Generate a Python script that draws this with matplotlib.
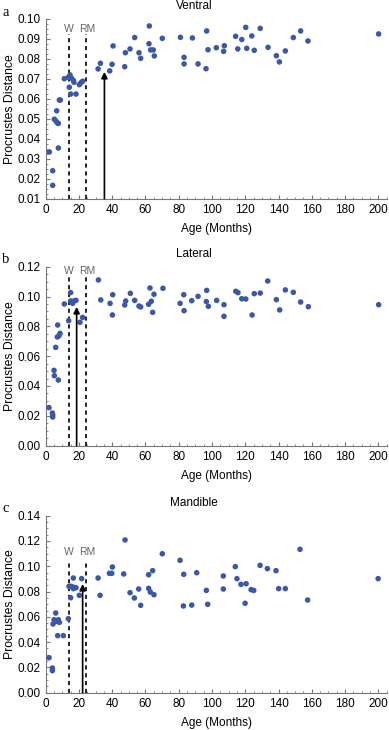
import matplotlib
matplotlib.use('Agg')
from matplotlib import pyplot as plt
from matplotlib.ticker import MultipleLocator

plt.rcParams['font.family'] = ['Liberation Sans', 'DejaVu Sans']

# Ventral
ventral_age = [2.2, 4.2, 4.2, 5.2, 6.0, 6.6, 7.0, 7.6, 7.6, 8.2, 8.8, 11.2, 13.6, 14.6, 14.2,
               15.0, 15.4, 16.6, 17.0, 18.2, 20.2, 21.2, 22.2, 31.5, 32.9, 38.5, 39.9, 40.5,
               47.5, 47.9, 50.7, 53.5, 56.1, 57.1, 62.1, 62.3, 63.1, 64.7, 65.3, 70.1, 81.0,
               83.2, 83.2, 88.2, 91.6, 96.8, 96.4, 97.6, 102.6, 107.4, 107.0, 114.2, 115.5,
               117.9, 120.3, 120.9, 123.9, 125.4, 129.0, 133.7, 138.7, 140.5, 144.1, 148.9,
               153.3, 157.7, 200.2]
ventral_dist = [0.0334, 0.0240, 0.0167, 0.0498, 0.0490, 0.0540, 0.0480, 0.0477, 0.0354, 0.0594,
                0.0594, 0.0701, 0.0708, 0.0720, 0.0658, 0.0624, 0.0705, 0.0693, 0.0683, 0.0624,
                0.0671, 0.0681, 0.0688, 0.0750, 0.0778, 0.0740, 0.0773, 0.0865, 0.0761, 0.0831,
                0.0850, 0.0907, 0.0831, 0.0803, 0.0876, 0.0965, 0.0845, 0.0845, 0.0815, 0.0903,
                0.0908, 0.0808, 0.0775, 0.0905, 0.0775, 0.0940, 0.0751, 0.0846, 0.0856, 0.0866,
                0.0838, 0.0913, 0.0850, 0.0897, 0.0958, 0.0853, 0.0915, 0.0843, 0.0953, 0.0858,
                0.0816, 0.0785, 0.0840, 0.0907, 0.0940, 0.0890, 0.0925]

# Lateral
lateral_age = [2.0, 4.0, 4.2, 4.2, 5.0, 5.2, 6.0, 7.2, 7.0, 8.0, 8.6, 7.6, 11.2, 13.8, 15.0,
               15.0, 16.2, 17.0, 18.2, 20.6, 22.2, 31.7, 33.1, 38.7, 40.3, 40.1, 47.5, 48.1,
               50.9, 53.5, 56.1, 57.1, 61.9, 62.7, 63.5, 64.3, 65.1, 70.5, 80.8, 83.0, 83.2,
               87.8, 91.6, 96.8, 96.6, 97.8, 102.8, 107.2, 107.2, 114.3, 115.6, 117.9, 120.3,
               124.1, 125.4, 129.0, 133.5, 138.7, 140.7, 144.1, 148.9, 153.3, 157.9, 200.2]
lateral_dist = [0.0255, 0.0219, 0.0205, 0.0192, 0.0505, 0.0469, 0.0659, 0.0809, 0.0729, 0.0737,
                0.0753, 0.0440, 0.0950, 0.0838, 0.1026, 0.0970, 0.0954, 0.0970, 0.0974, 0.0827,
                0.0860, 0.1111, 0.0977, 0.0954, 0.1012, 0.0876, 0.0943, 0.0970, 0.1021, 0.0974,
                0.0936, 0.0930, 0.0948, 0.1057, 0.0968, 0.0894, 0.1015, 0.1055, 0.0954, 0.1012,
                0.0905, 0.0972, 0.1001, 0.1041, 0.0966, 0.0934, 0.0974, 0.0945, 0.0867, 0.1035,
                0.1026, 0.0985, 0.0983, 0.0876, 0.1019, 0.1023, 0.1104, 0.0979, 0.0910, 0.1044,
                0.1028, 0.0963, 0.0932, 0.0945]

# Mandible
mandible_age = [2.0, 4.0, 4.0, 4.4, 5.0, 6.0, 6.2, 7.2, 7.6, 8.2, 10.6, 13.6, 14.0, 15.0, 15.4,
                16.6, 16.6, 17.2, 18.2, 20.2, 21.6, 31.5, 32.7, 38.3, 39.7, 40.1, 46.9, 47.7,
                50.7, 53.3, 55.9, 57.1, 61.9, 61.9, 62.9, 64.3, 65.1, 70.1, 80.8, 83.0, 82.8,
                87.8, 90.8, 96.6, 97.4, 106.8, 106.8, 114.0, 115.0, 117.4, 119.9, 120.5, 123.5,
                125.1, 128.9, 133.3, 138.5, 140.1, 144.1, 152.9, 157.5, 199.9]
mandible_dist = [0.0277, 0.0195, 0.0174, 0.0543, 0.0577, 0.0630, 0.0564, 0.0451, 0.0577, 0.0556,
                 0.0451, 0.0585, 0.0841, 0.0751, 0.0841, 0.0907, 0.0823, 0.0833, 0.0830, 0.0770,
                 0.0902, 0.0907, 0.0770, 0.0944, 0.0944, 0.0994, 0.0939, 0.1208, 0.0791, 0.0749,
                 0.0820, 0.0691, 0.0933, 0.0825, 0.0796, 0.0965, 0.0775, 0.1099, 0.1047, 0.0936,
                 0.0686, 0.0693, 0.0949, 0.0809, 0.0699, 0.0923, 0.0820, 0.0997, 0.0902, 0.0857,
                 0.0707, 0.0862, 0.0815, 0.0809, 0.1007, 0.0981, 0.0965, 0.0823, 0.0823, 0.1134,
                 0.0733, 0.0902]

titles = ['Ventral', 'Lateral', 'Mandible']
letters = ['a', 'b', 'c']
weaning, rm = 14, 24
arrow_x = [35.3, 18.6, 22.2]
arrow_top = [0.0735, 0.093, 0.086]
ylims = [(0.01, 0.10), (0.0, 0.12), (0.0, 0.14)]
ystep = [0.01, 0.02, 0.02]
dash_top = [0.0925, 0.113, 0.105]
label_y = [0.0950, 0.1170, 0.1115]
ypos = [(0.7278, 0.2462), (0.3895, 0.2452), (0.0511, 0.2425)]

fig = plt.figure(figsize=(3.89, 7.30), dpi=100)
data = [(ventral_age, ventral_dist), (lateral_age, lateral_dist), (mandible_age, mandible_dist)]

for i in range(3):
    ax = fig.add_axes([0.1175, ypos[i][0], 0.8764, ypos[i][1]])
    ax.scatter(data[i][0], data[i][1], s=16, color='#3b57a8', edgecolors='none', zorder=3)
    lo, hi = ylims[i]
    ax.set_xlim(0, 205)
    ax.set_ylim(lo, hi)
    for xv in (weaning, rm):
        ax.plot([xv, xv], [lo, dash_top[i]], color='black', lw=1.2, ls=(0, (2.5, 2.2)))
    ax.text(weaning, label_y[i], 'W', ha='center', va='center', fontsize=7.5, color='#666666')
    ax.text(rm + 0.8, label_y[i], 'RM', ha='center', va='center', fontsize=7.5, color='#666666')
    ax.annotate('', xy=(arrow_x[i], arrow_top[i]), xytext=(arrow_x[i], lo),
                arrowprops=dict(arrowstyle='-|>', color='black', lw=1.2,
                                mutation_scale=9, shrinkA=0, shrinkB=0))
    ax.spines['top'].set_visible(False)
    ax.spines['right'].set_visible(False)
    ax.spines['left'].set_color('#777777')
    ax.spines['bottom'].set_color('#777777')
    ax.xaxis.set_major_locator(MultipleLocator(20))
    ax.xaxis.set_minor_locator(MultipleLocator(5))
    ax.yaxis.set_major_locator(MultipleLocator(ystep[i]))
    ax.yaxis.set_minor_locator(MultipleLocator(ystep[i] / 4))
    ax.tick_params(which='major', direction='in', length=3, color='#777777',
                   labelsize=8.5, pad=4)
    ax.tick_params(which='minor', direction='in', length=1.5, color='#777777')
    ax.yaxis.set_major_formatter(plt.FormatStrFormatter('%.2f'))
    ax.set_xlabel('Age (Months)', fontsize=8.5, labelpad=5)
    ax.set_ylabel('Procrustes Distance', fontsize=8.8, labelpad=1)
    # titles sit at the figure centre, not the axes centre
    ax.set_title(titles[i], fontsize=8.5, pad=7, x=0.435)
    fig.text(0.014, ypos[i][0] + ypos[i][1] + 0.0095, letters[i], fontsize=10.5,
             family='Liberation Serif', va='center', ha='center')

fig.savefig('out.png', dpi=100)
